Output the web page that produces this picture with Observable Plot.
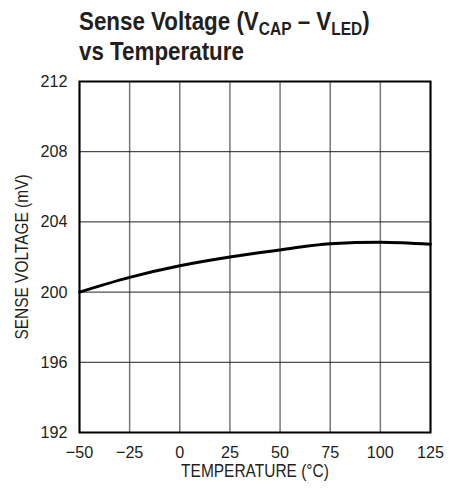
<!DOCTYPE html>
<html><head><meta charset="utf-8">
<script src="https://cdn.jsdelivr.net/npm/d3@7"></script>
<script src="https://cdn.jsdelivr.net/npm/@observablehq/plot@0.6"></script>
<style>
body{margin:0;background:#fff;font-family:"Liberation Sans",Arial,sans-serif;}
#title{height:68px;box-sizing:border-box;padding-left:79px;padding-top:6px;font-weight:bold;font-size:26px;line-height:30px;color:#231f20;}
#title .in{display:inline-block;transform:scaleX(0.86);transform-origin:0 0;white-space:nowrap;}
#title sub{font-size:18px;vertical-align:-5px;line-height:0;}
</style></head>
<body>
<div id="title"><div class="in">Sense Voltage (V<sub>CAP</sub> – V<sub>LED</sub>)<br>vs Temperature</div></div>
<div id="chart"></div>
<script>
const temps = [-50, -25, 0, 25, 50, 75, 100, 125];
const voltage = [200.0, 200.84, 201.5, 202.0, 202.4, 202.76, 202.84, 202.72];
const xTicks = [-50, -25, 0, 25, 50, 75, 100, 125];
const yTicks = [192, 196, 200, 204, 208, 212];
const xTitle = "TEMPERATURE (°C)";
const yTitle = "SENSE VOLTAGE (mV)";

const data = temps.map((t, i) => ({t, v: voltage[i]}));
const font = "Liberation Sans, Arial, sans-serif";

const chart = Plot.plot({
  width: 461, height: 423,
  marginLeft: 79, marginRight: 31, marginTop: 13, marginBottom: 59,
  style: {fontFamily: font, color: "#231f20", background: "#fff"},
  x: {domain: [-50, 125]},
  y: {domain: [192, 212]},
  marks: [
    Plot.gridX(xTicks, {stroke: "#777", strokeOpacity: 1, strokeWidth: 1.5}),
    Plot.gridY(yTicks, {stroke: "#222", strokeOpacity: 1, strokeWidth: 1}),
    Plot.axisX(xTicks, {tickSize: 0, tickPadding: 13, fontSize: 17, label: null, tickFormat: d => d < 0 ? "\u2212" + Math.abs(d) : String(d)}),
    Plot.axisY(yTicks, {tickSize: 0, tickPadding: 12, fontSize: 17, label: null}),
    Plot.frame({stroke: "#000", strokeWidth: 2}),
    Plot.line(data, {x: "t", y: "v", stroke: "#000", strokeWidth: 3, curve: "monotone-x"}),
    Plot.text([yTitle], {frameAnchor: "left", textAnchor: "middle", dx: -57, rotate: -90, fontSize: 18, fill: "#231f20"}),
    Plot.text([xTitle], {frameAnchor: "bottom", dy: 44, fontSize: 18, fill: "#231f20"})
  ]
});
document.getElementById("chart").appendChild(chart);
// condense the sans-serif text to resemble the reference's condensed face
chart.querySelectorAll("text").forEach(t => {
  const tr = t.getAttribute("transform") || "";
  const isTitle = t.textContent === xTitle || t.textContent === yTitle;
  const k = isTitle ? 0.86 : 0.95;
  if (tr.includes("rotate")) {
    t.setAttribute("transform", tr + ` scale(${k},1)`);
  } else {
    const len = t.getComputedTextLength();
    t.setAttribute("textLength", (len * k).toFixed(1));
    t.setAttribute("lengthAdjust", "spacingAndGlyphs");
  }
});
</script>
</body></html>
